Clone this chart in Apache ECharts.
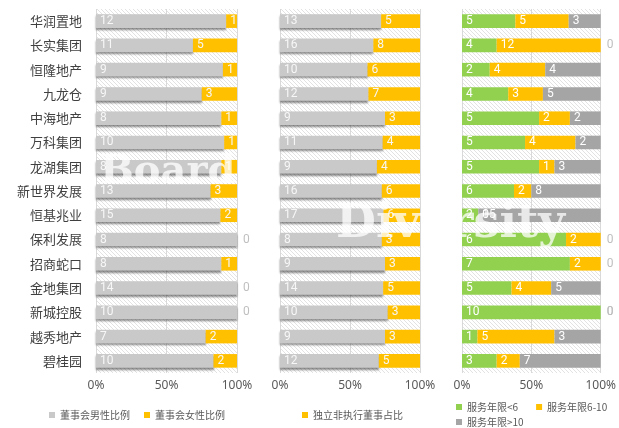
<!DOCTYPE html>
<html><head><meta charset="utf-8">
<script src="https://cdn.jsdelivr.net/npm/echarts@6/dist/echarts.min.js"></script>
<style>html,body{margin:0;padding:0;background:#fff}#c{width:619px;height:428px}</style>
</head><body><div id="c"></div>
<script>
const categories = ['华润置地','长实集团','恒隆地产','九龙仓','中海地产','万科集团','龙湖集团','新世界发展','恒基兆业','保利发展','招商蛇口','金地集团','新城控股','越秀地产','碧桂园'];
const boardMale   = [12,11,9,9,8,10,8,13,15,8,8,14,10,7,10];
const boardFemale = [1,5,1,3,1,1,1,3,2,0,1,0,0,2,2];
const boardTotal  = [13,16,10,12,9,11,9,16,17,8,9,14,10,9,12];
const independent = [5,8,6,7,3,4,4,6,6,3,3,5,3,3,5];
const tenureUnder6 = [5,4,2,4,5,5,5,6,2,6,7,5,10,1,3];
const tenure6to10  = [5,12,4,3,2,4,1,2,0,2,2,4,0,5,2];
const tenureOver10 = [3,0,4,5,2,2,3,8,15,0,0,5,0,3,7];
const xTicks = ['0%','50%','100%'];

const GRAY='#c9c9c9', YELLOW='#ffc000', GREEN='#92d050', DGRAY='#a5a5a5';

const pc = document.createElement('canvas'); pc.width = 4; pc.height = 4;
const g = pc.getContext('2d');
g.fillStyle = '#ffffff'; g.fillRect(0,0,4,4);
g.strokeStyle = '#e2e2e2'; g.lineWidth = 1;
g.beginPath();
g.moveTo(-1,-1); g.lineTo(5,5);
g.moveTo(-3,1); g.lineTo(3,7);
g.moveTo(1,-3); g.lineTo(7,3);
g.stroke();
const hatch = {image: pc, repeat: 'repeat'};

const grids = [
  {left: 96, width: 141, top: 9, height: 364},
  {left: 280, width: 140, top: 9, height: 364},
  {left: 462, width: 141, top: 9, height: 364}
];

function stackSeries(names, arrays, colors, gi, labelColor, shadowIdx) {
  const totals = categories.map((_, i) => arrays.reduce((s, a) => s + a[i], 0));
  return arrays.map((arr, k) => ({
    name: names[k], type: 'bar', stack: 's' + gi, xAxisIndex: gi, yAxisIndex: gi,
    barWidth: '56%',
    itemStyle: Object.assign({color: colors[k]}, shadowIdx.includes(k) ? {shadowColor: 'rgba(0,0,0,0.45)', shadowBlur: 2, shadowOffsetY: 2, shadowOffsetX: 0} : {}),
    label: {show: true, position: 'insideLeft', distance: 4, color: labelColor, fontSize: 12, fontFamily: 'Roboto', formatter: p => p.data.raw},
    data: arr.map((v, i) => {
      const item = {value: v / totals[i] * 100, raw: v};
      const tailZero = v === 0 && arrays.slice(k).every(a => a[i] === 0);
      if (tailZero) item.label = {position: 'right', distance: 6, color: '#bfbfbf'};
      return item;
    })
  }));
}

const series = [].concat(
  stackSeries(['董事会男性比例','董事会女性比例'], [boardMale, boardFemale], [GRAY, YELLOW], 0, '#f7f7f7', [0]),
  stackSeries(['董事总数','独立非执行董事占比'], [boardTotal, independent], [GRAY, YELLOW], 1, '#f7f7f7', [0]),
  stackSeries(['服务年限<6','服务年限6-10','服务年限>10'], [tenureUnder6, tenure6to10, tenureOver10], [GREEN, YELLOW, DGRAY], 2, '#ffffff', [])
);

const legendText = {color: '#595959', fontSize: 10, fontFamily: '"Noto Sans CJK SC"'};
const option = {
  animation: false,
  grid: grids.map(gr => Object.assign({show: true, backgroundColor: hatch, borderWidth: 0, containLabel: false}, gr)),
  xAxis: grids.map((_, i) => ({
    gridIndex: i, type: 'value', min: 0, max: 100, interval: 50,
    axisLine: {show: false}, axisTick: {show: false},
    splitLine: {show: true, lineStyle: {color: '#d9d9d9', width: 1}},
    axisLabel: {color: '#595959', fontSize: 12, margin: 7, fontFamily: '"Noto Sans"', formatter: v => xTicks[Math.round(v / 50)]}
  })),
  yAxis: grids.map((_, i) => ({
    gridIndex: i, type: 'category', data: categories, inverse: true,
    axisLine: {show: false}, axisTick: {show: false},
    axisLabel: {show: i === 0, color: '#404040', fontSize: 13, margin: 14, fontFamily: '"Noto Sans CJK SC"'}
  })),
  legend: [
    {data: ['董事会男性比例','董事会女性比例'], left: 44, top: 405, icon: 'rect', itemWidth: 6, itemHeight: 6, itemGap: 14, textStyle: legendText},
    {data: ['独立非执行董事占比'], left: 297, top: 405, icon: 'rect', itemWidth: 6, itemHeight: 6, textStyle: legendText},
    {data: ['服务年限<6','服务年限6-10'], left: 451, top: 397, icon: 'rect', itemWidth: 6, itemHeight: 6, itemGap: 18, textStyle: legendText},
    {data: ['服务年限>10'], left: 451, top: 412, icon: 'rect', itemWidth: 6, itemHeight: 6, textStyle: legendText}
  ],
  graphic: [
    {type: 'text', left: 100, top: 153, z: 100, silent: true, style: {text: 'Board', font: 'bold 40px "DejaVu Serif"', fill: 'rgba(255,255,255,0.75)'}},
    {type: 'text', left: 336, top: 202, z: 100, silent: true, style: {text: 'Diversity', font: 'bold 46px "DejaVu Serif"', fill: 'rgba(255,255,255,0.75)'}}
  ],
  series: series
};
const chart = echarts.init(document.getElementById('c'), null, {renderer: 'canvas'});
chart.setOption(option);
</script></body></html>
